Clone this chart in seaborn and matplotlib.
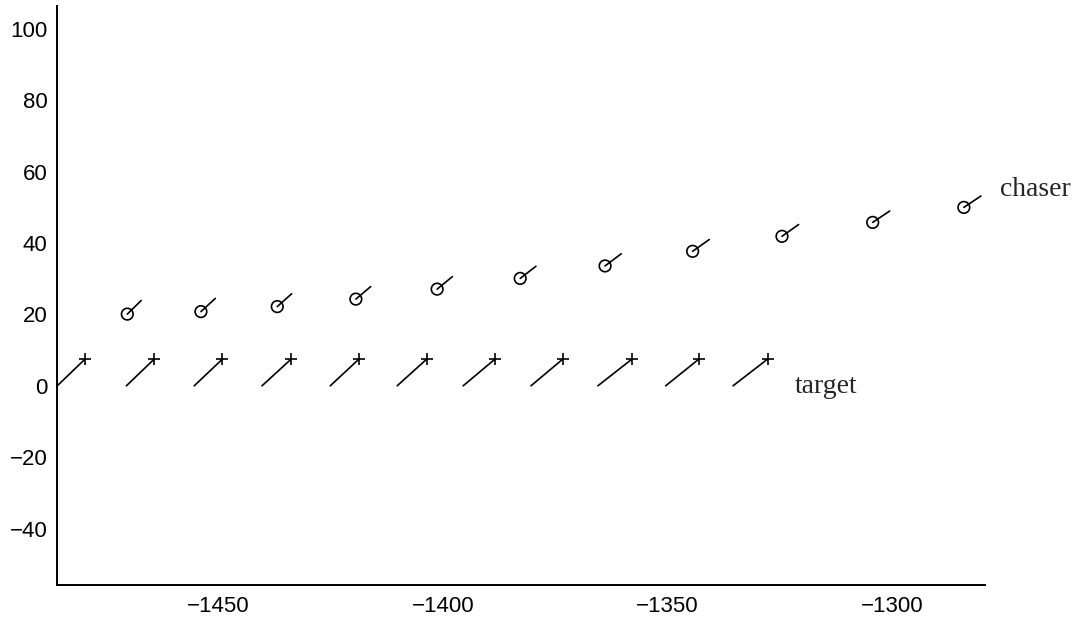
"""
Chaser / target pursuit plot
Positions with short direction segments, MATLAB-style axes
"""

import numpy as np
import pandas as pd
import matplotlib
matplotlib.use("Agg")
import matplotlib.pyplot as plt
import seaborn as sns

# target: '+' positions and the tail offset of each direction segment
target_x = [-1479.7, -1464.3, -1449.1, -1433.8, -1418.7, -1403.6,
            -1388.4, -1373.3, -1357.9, -1343.0, -1327.7]
target_y = [7.5, 7.5, 7.5, 7.5, 7.5, 7.5, 7.5, 7.5, 7.5, 7.5, 7.5]
target_dx = [6.2, 6.2, 6.3, 6.5, 6.4, 6.6, 7.1, 7.1, 7.6, 7.4, 7.7]
target_dy = [7.5, 7.5, 7.5, 7.5, 7.5, 7.5, 7.5, 7.5, 7.5, 7.5, 7.5]

# chaser: circle positions and the head offset of each direction segment
chaser_x = [-1470.3, -1453.9, -1436.9, -1419.4, -1401.3, -1382.8,
            -1363.9, -1344.4, -1324.5, -1304.3, -1284.0]
chaser_y = [20.1, 20.8, 22.2, 24.3, 27.1, 30.1, 33.6, 37.7, 41.9, 45.8, 50.0]
chaser_dx = [3.1, 3.2, 3.2, 3.3, 3.4, 3.5, 3.6, 3.7, 3.7, 3.8, 3.8]
chaser_dy = [3.8, 3.7, 3.6, 3.5, 3.5, 3.4, 3.4, 3.3, 3.3, 3.2, 3.2]

x_ticks = [-1450, -1400, -1350, -1300]
y_ticks = [-40, -20, 0, 20, 40, 60, 80, 100]

sns.set_style("white")
plt.rcParams["font.family"] = ["Liberation Sans", "DejaVu Sans"]

# segments as a long table, one unit per segment
rows = []
for i in range(len(target_x)):
    rows.append({"seg": f"t{i}", "x": target_x[i] - target_dx[i], "y": target_y[i] - target_dy[i]})
    rows.append({"seg": f"t{i}", "x": target_x[i], "y": target_y[i]})
for i in range(len(chaser_x)):
    rows.append({"seg": f"c{i}", "x": chaser_x[i], "y": chaser_y[i]})
    rows.append({"seg": f"c{i}", "x": chaser_x[i] + chaser_dx[i], "y": chaser_y[i] + chaser_dy[i]})
segs = pd.DataFrame(rows)

target = pd.DataFrame({"x": target_x, "y": target_y})
chaser = pd.DataFrame({"x": chaser_x, "y": chaser_y})

fig = plt.figure(figsize=(10.8, 6.17), dpi=100)
ax = fig.add_axes([0.053, 0.052, 0.859, 0.938])

sns.lineplot(data=segs, x="x", y="y", units="seg", estimator=None,
             sort=False, color="black", linewidth=1.2, ax=ax)
sns.scatterplot(data=target, x="x", y="y", marker="+", s=75,
                color="black", linewidth=1.2, ax=ax, zorder=3)
sns.scatterplot(data=chaser, x="x", y="y", marker="o", s=70,
                facecolor="none", edgecolor="black", linewidth=1.2,
                ax=ax, zorder=3)

ax.text(-1276, 55.0, "chaser", family=["Liberation Serif", "DejaVu Serif"],
        fontsize=20, va="center", ha="left", clip_on=False)
ax.text(-1321.6, -0.3, "target", family=["Liberation Serif", "DejaVu Serif"],
        fontsize=20, va="center", ha="left", clip_on=False)

ax.set_xlim(-1485.9, -1279.3)
ax.set_ylim(-55.8, 106.4)
ax.set_xticks(x_ticks)
ax.set_yticks(y_ticks)
ax.set_xticklabels([f"\u2212{abs(v)}" for v in x_ticks])
ax.set_yticklabels([f"\u2212{abs(v)}" if v < 0 else str(v) for v in y_ticks])
ax.set_xlabel("")
ax.set_ylabel("")

sns.despine(ax=ax, top=True, right=True)
for side in ["left", "bottom"]:
    ax.spines[side].set_color("black")
    ax.spines[side].set_linewidth(1.4)

ax.tick_params(axis="y", direction="in", length=8, width=1, pad=7,
               labelsize=16, colors="black")
ax.tick_params(axis="x", direction="in", length=5, width=1, pad=8,
               labelsize=16, colors="black")

fig.savefig("out.png", dpi=100)
plt.close(fig)
